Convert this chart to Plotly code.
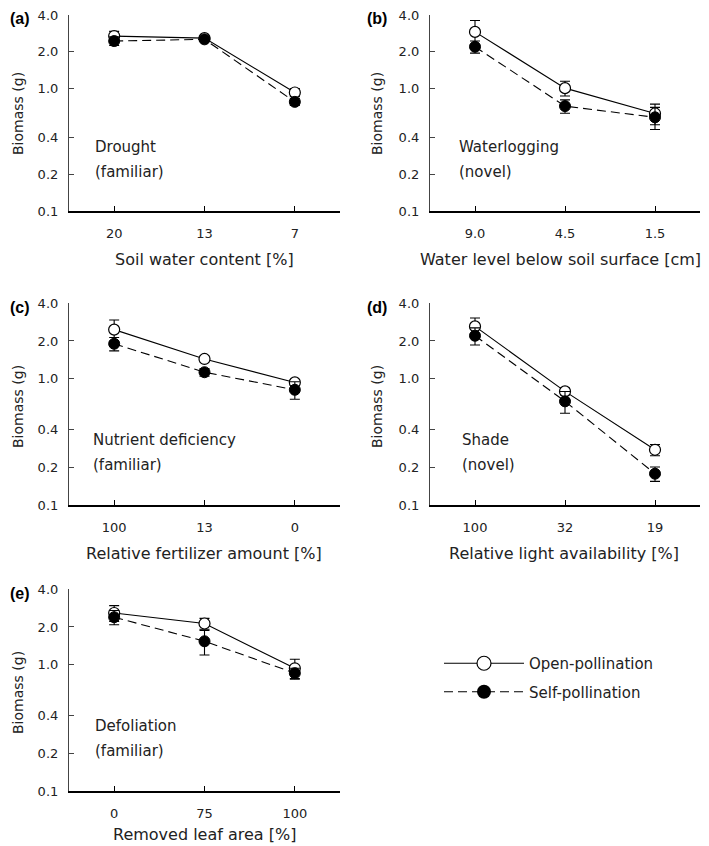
import plotly.graph_objects as go

# ---------------- data ----------------
panel_letters = ["(a)", "(b)", "(c)", "(d)", "(e)"]
stress_names = ["Drought", "Waterlogging", "Nutrient deficiency", "Shade", "Defoliation"]
stress_types = ["(familiar)", "(novel)", "(familiar)", "(novel)", "(familiar)"]
x_titles = ["Soil water content [%]", "Water level below soil surface [cm]",
            "Relative fertilizer amount [%]", "Relative light availability [%]",
            "Removed leaf area [%]"]
y_title = "Biomass (g)"
x_ticklabels = [["20", "13", "7"], ["9.0", "4.5", "1.5"], ["100", "13", "0"],
                ["100", "32", "19"], ["0", "75", "100"]]

open_mean = [[2.69, 2.59, 0.93], [2.91, 1.01, 0.627], [2.46, 1.44, 0.938],
             [2.61, 0.796, 0.274], [2.58, 2.13, 0.94]]
open_err = [[0.25, 0.10, 0.07], [0.70, 0.14, 0.12], [0.47, 0.08, 0.05],
            [0.43, 0.05, 0.028], [0.37, 0.21, 0.17]]
self_mean = [[2.45, 2.53, 0.78], [2.20, 0.72, 0.583], [1.90, 1.13, 0.82],
             [2.20, 0.664, 0.177], [2.39, 1.54, 0.86]]
self_err = [[0.20, 0.10, 0.05], [0.25, 0.09, 0.12], [0.23, 0.08, 0.13],
            [0.34, 0.13, 0.023], [0.31, 0.34, 0.08]]

y_tickvals = [0.1, 0.2, 0.4, 1.0, 2.0, 4.0]
y_ticktext = ["0.1", "0.2", "0.4", "1.0", "2.0", "4.0"]
series_names = ["Open-pollination", "Self-pollination"]

# ---------------- layout helpers ----------------
# the page body adds an 8px margin, so the figure is laid out in its own pixels
W, H = 701, 838
FONT = "DejaVu Sans"
TXT = "#222222"
DASH = "9px,5px"

def px_x(p):
    return p / W

def px_y(p):
    return 1 - p / H

x_domains = [(61, 332), (422, 692)]
y_domains = [(7, 203), (295, 497), (581, 783)]
label_tops = [2, 295, 581]

fig = go.Figure()
layout = dict(
    width=W, height=H, margin=dict(l=0, r=0, t=0, b=0),
    paper_bgcolor="white", plot_bgcolor="white",
    font=dict(family=FONT, size=13, color=TXT),
    showlegend=True,
)
annotations = []

for i in range(5):
    col = i % 2
    row = i // 2
    xd = x_domains[col]
    yd = y_domains[row]
    top = label_tops[row]
    n = i + 1
    xa = "x" if n == 1 else f"x{n}"
    ya = "y" if n == 1 else f"y{n}"
    xkey = "xaxis" if n == 1 else f"xaxis{n}"
    ykey = "yaxis" if n == 1 else f"yaxis{n}"
    xs = [0, 1, 2]

    fig.add_trace(go.Scatter(
        x=xs, y=open_mean[i], xaxis=xa, yaxis=ya, mode="lines+markers",
        line=dict(color="black", width=1.1),
        marker=dict(symbol="circle", size=11, color="white", line=dict(color="black", width=1.2)),
        error_y=dict(type="data", array=open_err[i], color="black", thickness=1.1, width=5),
        showlegend=False, name=series_names[0]))
    fig.add_trace(go.Scatter(
        x=xs, y=self_mean[i], xaxis=xa, yaxis=ya, mode="lines+markers",
        line=dict(color="black", width=1.1, dash=DASH),
        marker=dict(symbol="circle", size=11, color="black", line=dict(color="black", width=1)),
        error_y=dict(type="data", array=self_err[i], color="black", thickness=1.1, width=5),
        showlegend=False, name=series_names[1]))

    layout[xkey] = dict(
        domain=[px_x(xd[0]), px_x(xd[1])], anchor=ya, range=[-0.5, 2.5],
        tickmode="array", tickvals=xs, ticktext=x_ticklabels[i],
        ticks="inside", ticklen=5, tickwidth=1, tickcolor="black",
        showline=True, linecolor="black", linewidth=1.5, showgrid=False, zeroline=False,
        tickfont=dict(size=13, family=FONT, color=TXT), automargin=False,
        ticklabelstandoff=10, ticklabeloverflow="allow", fixedrange=True,
    )
    layout[ykey] = dict(
        domain=[px_y(yd[1]), px_y(yd[0])], anchor=xa, type="log",
        range=[-1, 0.60206], tickmode="array", tickvals=y_tickvals, ticktext=y_ticktext,
        ticks="inside", ticklen=5, tickwidth=1, tickcolor="#444444",
        showline=True, linecolor="#444444", linewidth=1.2, showgrid=False, zeroline=False,
        tickfont=dict(size=13, family=FONT, color=TXT), automargin=False,
        ticklabelstandoff=7, ticklabeloverflow="allow", fixedrange=True,
    )

    # axis titles
    xc = 196 if col == 0 else (552 if i == 1 else 556)
    if i == 4:
        xt = dict(y=0, yanchor="bottom")
    else:
        xt = dict(y=px_y(yd[1] + 48), yanchor="middle")
    annotations.append(dict(
        text=x_titles[i], xref="paper", yref="paper", x=px_x(xc),
        xanchor="center", showarrow=False,
        font=dict(family=FONT, size=16, color=TXT), **xt))
    if col == 0:
        yt = dict(x=0, xanchor="left")
    else:
        yt = dict(x=px_x(369), xanchor="center")
    annotations.append(dict(
        text=y_title, xref="paper", yref="paper", y=px_y(top + 104),
        yanchor="middle", textangle=-90, showarrow=False,
        font=dict(family=FONT, size=14, color=TXT), **yt))

    # panel letter
    if row == 0:
        pl = dict(y=1, yanchor="top")
    else:
        pl = dict(y=px_y(top + 4), yanchor="middle")
    annotations.append(dict(
        text=f"<b>{panel_letters[i]}</b>", xref="paper", yref="paper",
        x=px_x(0 if col == 0 else 357), xanchor="left", showarrow=False,
        font=dict(family="Liberation Sans", size=16, color="black"), **pl))
    # stress label
    label_x = {0: 85, 1: 449, 2: 83, 3: 452, 4: 85}[i]
    annotations.append(dict(
        text=stress_names[i], xref="paper", yref="paper", x=px_x(label_x),
        y=px_y(top + 137), xanchor="left", yanchor="middle", showarrow=False,
        font=dict(family=FONT, size=15, color=TXT)))
    annotations.append(dict(
        text=stress_types[i], xref="paper", yref="paper", x=px_x(label_x),
        y=px_y(top + 162), xanchor="left", yanchor="middle", showarrow=False,
        font=dict(family=FONT, size=15, color=TXT)))

# legend entries
fig.add_trace(go.Scatter(
    x=[None], y=[None], mode="lines+markers", name=series_names[0], legendgroup="open",
    line=dict(color="black", width=1.1),
    marker=dict(symbol="circle", size=14, color="white", line=dict(color="black", width=1.2))))
fig.add_trace(go.Scatter(
    x=[None], y=[None], mode="lines+markers", name=series_names[1], legendgroup="self",
    line=dict(color="black", width=1.1, dash=DASH),
    marker=dict(symbol="circle", size=14, color="black")))

layout["legend"] = dict(
    x=px_x(431), y=px_y(639), xanchor="left", yanchor="top",
    font=dict(family=FONT, size=15, color=TXT), itemwidth=80,
    bgcolor="rgba(0,0,0,0)", tracegroupgap=6,
)
layout["annotations"] = annotations
fig.update_layout(**layout)
fig.write_html("out.html")
